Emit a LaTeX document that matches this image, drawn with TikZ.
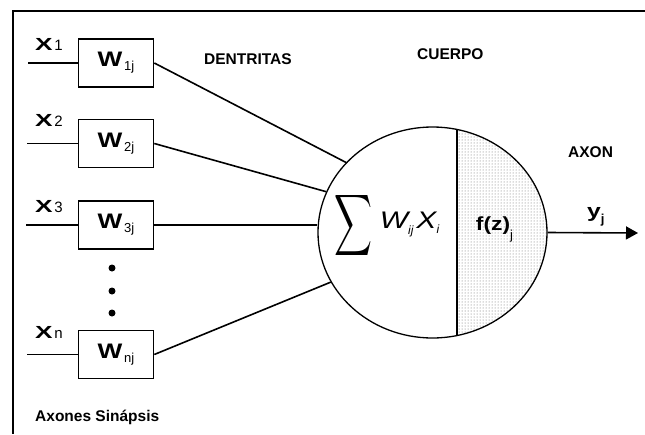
\documentclass[tikz,border=0pt]{standalone}
\usepackage{amsmath}
\usepackage{fontspec}
\setmainfont{Liberation Sans}
\usetikzlibrary{shapes.geometric,patterns,arrows.meta}

\newcommand{\peso}[1]{\scalebox{1.25}[1]{\fontsize{21}{21}\selectfont\bfseries W}\,\raisebox{-4pt}{\fontsize{13}{13}\selectfont #1}}
\newcommand{\entrada}[1]{\scalebox{1.5}[1]{\fontsize{17.5}{17.5}\selectfont\bfseries X}\,{\fontsize{15}{15}\selectfont #1}}

\begin{document}
\begin{tikzpicture}[
    x=1pt, y=-1pt,
    every node/.style={inner sep=0pt},
    caja/.style={
        draw,
        line width=1.6pt,
        minimum width=75pt,
        minimum height=48pt
    },
    rotulo/.style={anchor=base west, font=\fontsize{15.5}{18}\selectfont\bfseries},
    enlace/.style={line width=1.6pt}
]

\useasboundingbox (0,0) rectangle (645,434);
\draw[line width=1.2pt] (645,11) -- (13,11) -- (13,434);

% sinapsis
\node[caja] (w1) at (116,63) {\peso{1j}};
\node[caja] (w2) at (116,143.5) {\peso{2j}};
\node[caja] (w3) at (116,225) {\peso{3j}};
\node[caja] (wn) at (116,354.5) {\peso{nj}};

\node[anchor=base west] (x1) at (35,50) {\entrada{1}};
\node[anchor=base west] (x2) at (35,126) {\entrada{2}};
\node[anchor=base west] (x3) at (35,212) {\entrada{3}};
\node[anchor=base west] (xn) at (35,338) {\entrada{n}};

\coordinate (in1) at (28,63);
\coordinate (in2) at (27,143.5);
\coordinate (in3) at (26,225);
\coordinate (inn) at (27,354.5);

\draw[enlace] (in1) -- (w1.west);
\draw[enlace] (in2) -- (w2.west);
\draw[enlace] (in3) -- (w3.west);
\draw[enlace] (inn) -- (wn.west);

\foreach \y [count=\i] in {268,291,313}
    \node[circle, fill, minimum size=7pt] (punto\i) at (112,\y) {};

% cuerpo
\coordinate (centro) at (432.5,232.5);
\begin{scope}
    \clip (centro) ellipse [x radius=114.5, y radius=105.5];
    \fill[pattern=dots, pattern color=black!60] (457,100) rectangle (560,350);
    \draw[line width=1.6pt] (457,100) -- (457,350);
\end{scope}
\node[draw, ellipse, line width=1.3pt, minimum width=229pt, minimum height=211pt] (soma) at (centro) {};

\draw[enlace] (w1.east) -- (soma.141);
\draw[enlace] (w2.east) -- (soma.159);
\draw[enlace] (w3.east) -- (soma.west |- w3.east);
\draw[enlace] (wn.east) -- (soma.206);

\node (suma) at (387,225) {\raisebox{-7pt}{\resizebox{38pt}{45pt}{$\displaystyle\sum$}}\hspace{7pt}\scalebox{1.25}[1]{\fontsize{24}{24}\selectfont\itshape W}\raisebox{-6pt}{\fontsize{12}{12}\selectfont\itshape ij}\hspace{3pt}\scalebox{1.25}[1]{\fontsize{24}{24}\selectfont\itshape X}\raisebox{-5pt}{\fontsize{12}{12}\selectfont\itshape i}};
\node (fz) at (494.5,229) {\scalebox{1.2}[1]{\fontsize{19}{19}\selectfont\bfseries f(z)}\raisebox{-9pt}{\fontsize{13}{13}\selectfont j}};

% axon
\coordinate (salida) at (638,233);
\draw[enlace, -{Triangle[length=12pt,width=13pt]}] (soma.east) -- (salida);
\node[anchor=base west] (yj) at (587,217) {\scalebox{1.3}[1]{\fontsize{19}{19}\selectfont\bfseries y}\raisebox{-6pt}{\fontsize{13}{13}\selectfont\bfseries j}};

\node[rotulo] (dentritas) at (204,64) {DENTRITAS};
\node[rotulo] (cuerpo) at (417,59) {CUERPO};
\node[rotulo] (axon) at (568,157) {AXON};
\node[rotulo] (axones) at (35,421) {Axones Sinápsis};

\end{tikzpicture}
\end{document}
